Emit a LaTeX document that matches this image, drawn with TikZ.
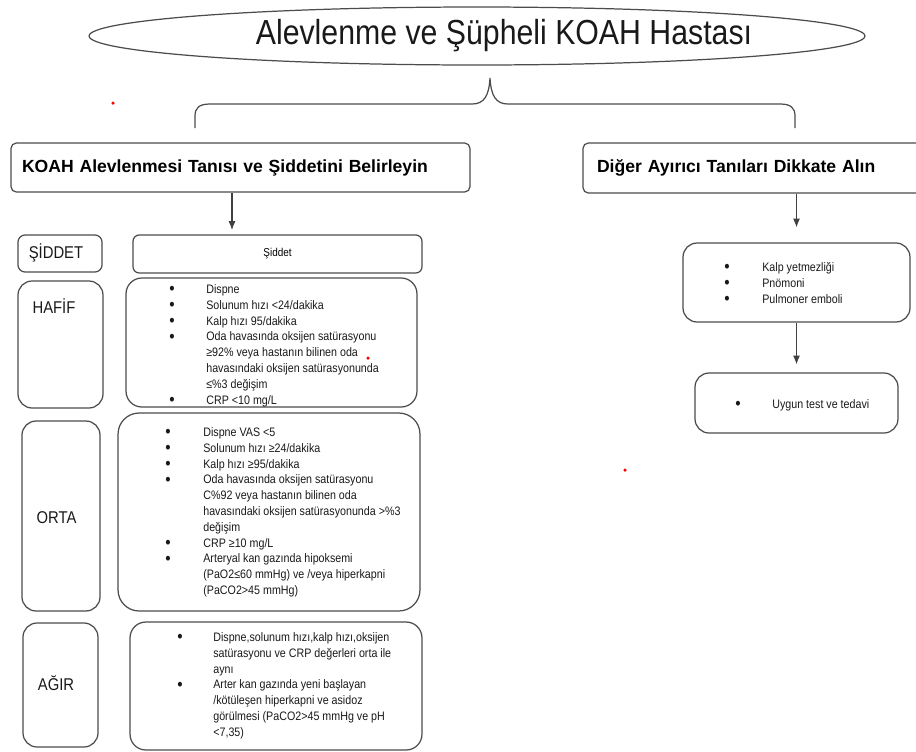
\documentclass[tikz,border=0pt]{standalone}
\usepackage{fontspec}
\setmainfont{Liberation Sans}
\newfontfamily\narrowsans{Liberation Sans}[FakeStretch=0.87]
\usetikzlibrary{shapes.geometric,arrows.meta}

\newcommand{\liste}[2]{\begin{tabular}{@{}p{#1}@{}l@{}}#2\end{tabular}}
\newcommand{\nokta}{\raisebox{-0.8pt}{\fontsize{10}{9}\selectfont\textbullet}}

\begin{document}
\begin{tikzpicture}[x=0.02cm, y=-0.02cm,
  kutu/.style={draw=black!70, line width=0.7pt, rounded corners=#1, inner sep=0pt},
  kutu/.default=8pt,
  baslik/.style={kutu=3pt, font=\bfseries\fontsize{10}{12}\selectfont, align=left},
  liste/.style={anchor=north west, inner sep=0pt, font=\narrowsans\fontsize{7}{9}\selectfont, text=black!90},
  etiket/.style={font=\narrowsans\fontsize{9.7}{11}\selectfont, text=black!90},
  cizgi/.style={draw=black!70, line width=0.7pt},
  ok/.style={-{Latex[length=5pt,width=4pt]}, line width=0.7pt, draw=black!75}]
  \useasboundingbox (0,0) rectangle (916,751);

  % top ellipse
  \node[ellipse, cizgi, minimum width=15.52cm, minimum height=1.16cm, inner sep=0pt] (hasta) at (477,36) {};
  \node[font=\narrowsans\fontsize{19.8}{22}\selectfont, text=black!90] (hastayazi) at (504,36) {Alevlenme ve Şüpheli KOAH Hastası};

  % brace under the ellipse
  \coordinate (kl) at (195,128);
  \coordinate (kr) at (795,128);
  \coordinate (kt) at (490,78);
  \draw[cizgi] (kl) -- (195,116) .. controls (195,108) and (199,104) .. (210,104) -- (472,104)
    .. controls (484,104) and (489,96) .. (kt) .. controls (491,96) and (496,104) .. (508,104)
    -- (780,104) .. controls (791,104) and (795,108) .. (795,116) -- (kr);

  % the two headings
  \node[baslik, minimum width=9.18cm, minimum height=0.98cm, text width=8.74cm, inner xsep=0.22cm] (tani) at (240.5,167.5)
    {KOAH Alevlenmesi Tanısı ve Şiddetini Belirleyin};
  \node[baslik, minimum width=7.14cm, minimum height=1.0cm, text width=6.58cm, inner xsep=0.28cm] (ayirici) at (761.5,168)
    {Diğer Ayırıcı Tanıları Dikkate Alın};

  % severity column
  \node[kutu=4pt, minimum width=1.68cm, minimum height=0.74cm] (sidkutu) at (60,253.5) {};
  \node[kutu=3.5pt, minimum width=5.78cm, minimum height=0.76cm, font=\narrowsans\fontsize{6.5}{8}\selectfont] (siddet) at (277.5,254) {Şiddet};
  \node[kutu=8pt, minimum width=1.70cm, minimum height=2.54cm] (hafifkutu) at (60.5,344.5) {};
  \node[kutu=9pt, minimum width=5.82cm, minimum height=2.58cm] (hafif) at (271.5,342.5) {};
  \node[kutu=8pt, minimum width=1.56cm, minimum height=3.80cm] (ortakutu) at (61,516) {};
  \node[kutu=12pt, minimum width=6.04cm, minimum height=3.96cm] (orta) at (269,512) {};
  \node[kutu=8pt, minimum width=1.50cm, minimum height=2.48cm] (agirkutu) at (60.5,685) {};
  \node[kutu=9pt, minimum width=5.84cm, minimum height=2.56cm] (agir) at (276,686) {};

  \node[etiket] (sidyazi) at (56,253) {ŞİDDET};
  \node[etiket] (hafifyazi) at (54,306) {HAFİF};
  \node[etiket] (ortayazi) at (56.5,518) {ORTA};
  \node[etiket] (agiryazi) at (56,683) {AĞIR};

  \node[liste] (hafifliste) at (169,282) {\liste{0.74cm}{%
    \nokta & Dispne\\
    \nokta & Solunum hızı <24/dakika\\
    \nokta & Kalp hızı 95/dakika\\
    \nokta & Oda havasında oksijen satürasyonu\\
           & ≥92\% veya hastanın bilinen oda\\
           & havasındaki oksijen satürasyonunda\\
           & ≤\%3 değişim\\
    \nokta & CRP <10 mg/L}};
  \node[liste] (ortaliste) at (165,425) {\liste{0.76cm}{%
    \nokta & Dispne VAS <5\\
    \nokta & Solunum hızı ≥24/dakika\\
    \nokta & Kalp hızı ≥95/dakika\\
    \nokta & Oda havasında oksijen satürasyonu\\
           & C\%92 veya hastanın bilinen oda\\
           & havasındaki oksijen satürasyonunda >\%3\\
           & değişim\\
    \nokta & CRP ≥10 mg/L\\
    \nokta & Arteryal kan gazında hipoksemi\\
           & (PaO2≤60 mmHg) ve /veya hiperkapni\\
           & (PaCO2>45 mmHg)}};
  \node[liste] (agirliste) at (177,630) {\liste{0.72cm}{%
    \nokta & Dispne,solunum hızı,kalp hızı,oksijen\\
           & satürasyonu ve CRP değerleri orta ile\\
           & aynı\\
    \nokta & Arter kan gazında yeni başlayan\\
           & /kötüleşen hiperkapni ve asidoz\\
           & görülmesi (PaCO2>45 mmHg ve pH\\
           & <7,35)}};

  % differential column
  \node[kutu=8pt, minimum width=4.54cm, minimum height=1.58cm] (tanilar) at (796.5,282.5) {};
  \node[kutu=8pt, minimum width=4.06cm, minimum height=1.20cm] (tedavi) at (796.5,403) {};
  \node[liste] (tanilarliste) at (724,260) {\liste{0.76cm}{%
    \nokta & Kalp yetmezliği\\
    \nokta & Pnömoni\\
    \nokta & Pulmoner emboli}};
  \node[liste] (tedaviliste) at (735,397) {\liste{0.74cm}{%
    \nokta & Uygun test ve tedavi}};

  % arrows
  \coordinate (o1) at (232,230);
  \draw[ok] (tani.south -| o1) -- (o1);
  \draw[ok, shorten >=0.3cm] (ayirici.south -| tanilar.north) -- (tanilar.north);
  \draw[ok, shorten >=0.16cm] (tanilar.south) -- (tedavi.north);

  % stray red dots
  \fill[red] (113,103) circle (0.035cm);
  \fill[red] (368,358) circle (0.035cm);
  \fill[red] (625,470) circle (0.035cm);
\end{tikzpicture}
\end{document}
